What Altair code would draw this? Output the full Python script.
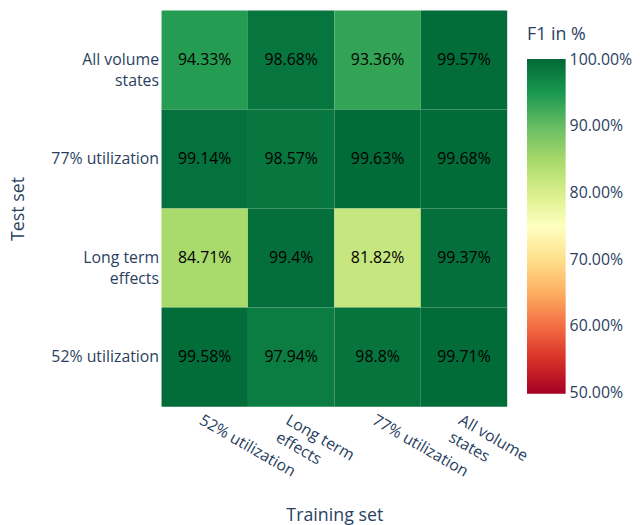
import altair as alt
import pandas as pd

train_sets = ["52% utilization", "Long term|effects", "77% utilization", "All volume|states"]
test_sets = ["All volume|states", "77% utilization", "Long term|effects", "52% utilization"]

# rows = test sets (top to bottom), columns = training sets (left to right)
f1_all_volume = [94.33, 98.68, 93.36, 99.57]
f1_77 = [99.14, 98.57, 99.63, 99.68]
f1_long_term = [84.71, 99.4, 81.82, 99.37]
f1_52 = [99.58, 97.94, 98.8, 99.71]
rows = [f1_all_volume, f1_77, f1_long_term, f1_52]

color_stops = [49.9, 55, 60, 65, 70, 75, 80, 85, 90, 95, 100.1]
color_range = ["#a50026", "#d73027", "#f46d43", "#fdae61", "#fee08b", "#ffffbf",
               "#d9ef8b", "#a6d96a", "#66bd63", "#1a9850", "#006837"]
legend_values = [50, 60, 70, 80, 90, 100]

records = []
for test, vals in zip(test_sets, rows):
    for train, v in zip(train_sets, vals):
        records.append({"train": train, "test": test, "f1": v, "label": f"{v}%"})
df = pd.DataFrame(records)

FONT = "Open Sans"
TXT = "#2a3f5f"

base = alt.Chart(df)

x_enc = alt.X("train:N", sort=train_sets, scale=alt.Scale(paddingInner=0, paddingOuter=0),
              axis=alt.Axis(title="Training set", labelAngle=30, labelAlign="left",
                            labelBaseline="top", labelPadding=5, labelOffset=0,
                            labelExpr="split(datum.label, '|')", labelLineHeight=20,
                            ticks=False, domain=False, titleX=174.5, titleY=115,
                            titleBaseline="alphabetic", titleAlign="center"))
y_enc = alt.Y("test:N", sort=test_sets, scale=alt.Scale(paddingInner=0, paddingOuter=0),
              axis=alt.Axis(title="Test set", labelExpr="split(datum.label, '|')",
                            labelLineHeight=21, labelPadding=3, ticks=False, domain=False,
                            titleX=-139, titleY=200, titleAngle=-90,
                            titleBaseline="alphabetic", titleAlign="center"))

rects = base.mark_rect().encode(
    x=x_enc,
    y=y_enc,
    color=alt.Color("f1:Q",
                    scale=alt.Scale(domain=color_stops, range=color_range, interpolate="rgb"),
                    legend=alt.Legend(type="gradient", title="F1 in %", orient="none",
                                      legendX=369, legendY=16,
                                      direction="vertical", gradientLength=338,
                                      gradientThickness=39, values=legend_values,
                                      labelExpr="format(datum.value, '.2f') + '%'",
                                      labelOverlap=False, labelOffset=4, titlePadding=15,
                                      gradientStrokeWidth=0, padding=0)),
)

texts = base.mark_text(fontSize=16, font=FONT, color="#000000").encode(
    x=alt.X("train:N", sort=train_sets),
    y=alt.Y("test:N", sort=test_sets),
    text="label:N",
)

chart = (rects + texts).properties(
    width=349, height=400,
    autosize="none",
    padding={"left": 155, "top": 0, "right": 126, "bottom": 117},
).configure_view(stroke=None).configure_axis(
    labelFont=FONT, labelFontSize=16, labelColor=TXT,
    titleFont=FONT, titleFontSize=18, titleColor=TXT, titleFontWeight="normal", grid=False,
).configure_legend(
    labelFont=FONT, labelFontSize=16, labelColor=TXT,
    titleFont=FONT, titleFontSize=18, titleColor=TXT, titleFontWeight="normal",
)

chart.save("out.html", embed_options={"renderer": "svg", "actions": False})
